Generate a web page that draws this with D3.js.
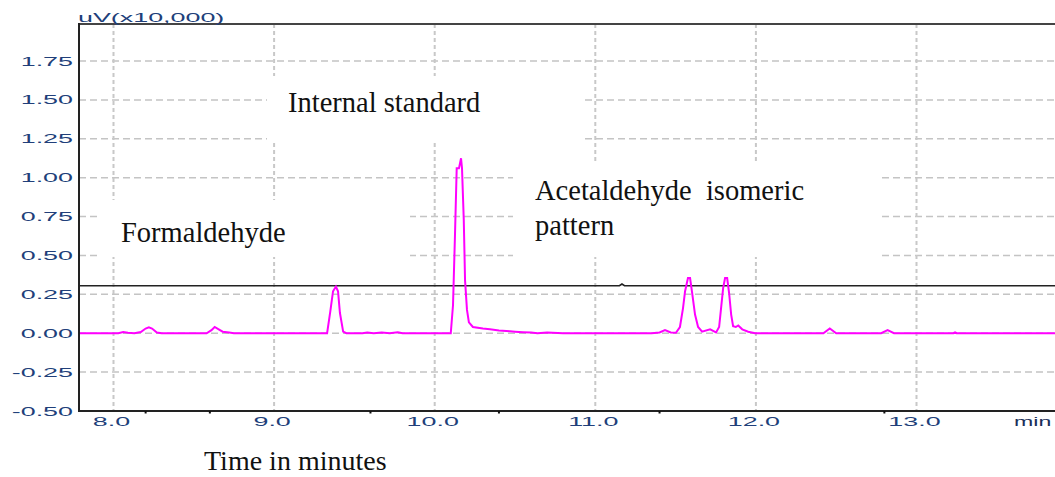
<!DOCTYPE html>
<html>
<head>
<meta charset="utf-8">
<script src="https://cdn.jsdelivr.net/npm/d3@7"></script>
<style>
  html, body { margin: 0; padding: 0; background: #fff; overflow: hidden; }
  svg { display: block; }
</style>
</head>
<body>
<svg id="chart" width="1055" height="477"></svg>
<script>
// ---------------- DATA ----------------
const xTicks = [8.0, 9.0, 10.0, 11.0, 12.0, 13.0];
const xTickLabels = ["8.0", "9.0", "10.0", "11.0", "12.0", "13.0"];
const xMinorTicks = [8.2, 8.6, 9.6, 10.4, 11.4, 12.8];
const yTicks = [-0.50, -0.25, 0.00, 0.25, 0.50, 0.75, 1.00, 1.25, 1.50, 1.75];
const yTickLabels = ["-0.50", "-0.25", "0.00", "0.25", "0.50", "0.75", "1.00", "1.25", "1.50", "1.75"];

// chromatogram trace: time (min), signal (uV x10,000)
const traceTime = [
  7.70, 8.03, 8.06, 8.09, 8.13, 8.17, 8.20, 8.22, 8.24, 8.27, 8.30,
  8.58, 8.61, 8.63, 8.655, 8.68, 8.72, 8.75,
  9.33, 9.35, 9.367, 9.385, 9.398, 9.41, 9.43, 9.45,
  9.55, 9.58, 9.62, 9.67, 9.72, 9.77, 9.80,
  10.10, 10.114, 10.126, 10.137, 10.151, 10.164, 10.170, 10.181, 10.189, 10.201, 10.213, 10.238,
  10.30, 10.344, 10.40, 10.469, 10.50, 10.55, 10.60, 10.64, 10.70, 10.80, 11.00, 11.20, 11.35,
  11.40, 11.434, 11.47, 11.502, 11.527, 11.546, 11.559, 11.577, 11.590, 11.603, 11.621, 11.640, 11.665,
  11.715, 11.752, 11.771, 11.783, 11.796, 11.808, 11.821, 11.833, 11.846, 11.858, 11.875, 11.890, 11.915, 11.952, 11.995,
  12.42, 12.46, 12.50, 12.78, 12.82, 12.86, 13.23, 13.24, 13.25, 14.00
];
const traceSignal = [
  0.000, 0.000, 0.008, 0.003, 0.000, 0.008, 0.030, 0.038, 0.030, 0.005, 0.000,
  0.000, 0.020, 0.040, 0.025, 0.010, 0.005, 0.000,
  0.000, 0.140, 0.270, 0.300, 0.270, 0.130, 0.010, 0.000,
  0.000, 0.005, 0.000, 0.005, 0.000, 0.006, 0.000,
  0.000, 0.180, 0.620, 1.060, 1.060, 1.125, 1.060, 0.730, 0.340, 0.150, 0.070, 0.040,
  0.030, 0.025, 0.018, 0.012, 0.010, 0.007, 0.005, 0.000, 0.004, 0.000, 0.000, 0.000, 0.000,
  0.005, 0.020, 0.005, 0.003, 0.040, 0.160, 0.270, 0.355, 0.355, 0.260, 0.120, 0.040, 0.010,
  0.025, 0.005, 0.040, 0.160, 0.290, 0.355, 0.355, 0.260, 0.120, 0.045, 0.040, 0.050, 0.025, 0.010, 0.000,
  0.000, 0.030, 0.000, 0.000, 0.020, 0.000, 0.000, 0.006, 0.000, 0.000
];

// horizontal reference line (black)
const refTime = [7.70, 11.150, 11.166, 11.182, 14.00];
const refSignal = [0.305, 0.305, 0.316, 0.305, 0.305];

// annotation labels
const labelTexts = ["Internal standard", "Formaldehyde", "Acetaldehyde  isomeric", "pattern"];
const axisTitleX = "Time in minutes";
const axisTitleY = "uV(x10,000)";
const axisUnitX = "min";

// ---------------- LAYOUT ----------------
const svg = d3.select("#chart");
const plotLeft = 79, plotTop = 24, plotBottom = 411, plotRight = 1062;

const x = d3.scaleLinear().domain([8, 13]).range([113.5, 916.5]);
const y = d3.scaleLinear().domain([-0.5, 1.75]).range([411, 61]);

const axisColor = "#213f7a";
const stretch = 2.15;

// clip
svg.append("defs").append("clipPath").attr("id", "plotClip")
  .append("rect").attr("x", plotLeft).attr("y", plotTop)
  .attr("width", plotRight - plotLeft).attr("height", plotBottom - plotTop);

// grid
const grid = svg.append("g").attr("clip-path", "url(#plotClip)");
grid.selectAll("line.h").data(yTicks).join("line")
  .attr("x1", plotLeft).attr("x2", plotRight)
  .attr("y1", d => y(d)).attr("y2", d => y(d))
  .attr("stroke", "#c4c4c4").attr("stroke-width", 1.5)
  .attr("stroke-dasharray", "7,4");
grid.selectAll("line.v").data(xTicks).join("line")
  .attr("x1", d => x(d)).attr("x2", d => x(d))
  .attr("y1", plotTop).attr("y2", plotBottom)
  .attr("stroke", "#c8c8c8").attr("stroke-width", 2)
  .attr("stroke-dasharray", "4,3");

// white boxes behind annotation texts
const boxes = svg.append("g");
const boxSpecs = [
  [267, 76, 583, 143],
  [513, 163, 880, 257],
  [100, 200, 410, 257]
];
boxes.selectAll("rect").data(boxSpecs).join("rect")
  .attr("x", d => d[0]).attr("y", d => d[1])
  .attr("width", d => d[2] - d[0]).attr("height", d => d[3] - d[1])
  .attr("fill", "#fff");

// lines
const plot = svg.append("g").attr("clip-path", "url(#plotClip)");
const refData = refTime.map((t, i) => [t, refSignal[i]]);
const traceData = traceTime.map((t, i) => [t, traceSignal[i]]);
const line = d3.line().x(d => x(d[0])).y(d => y(d[1]));

plot.append("path").datum(refData).attr("d", line)
  .attr("fill", "none").attr("stroke", "#222").attr("stroke-width", 1.6);
plot.append("path").datum(traceData).attr("d", line)
  .attr("fill", "none").attr("stroke", "#ff00ff").attr("stroke-width", 2)
  .attr("stroke-linejoin", "miter");

// frame / axes
svg.append("line").attr("x1", plotLeft).attr("x2", plotRight)
  .attr("y1", plotTop).attr("y2", plotTop)
  .attr("stroke", "#444").attr("stroke-width", 2);
svg.append("line").attr("x1", plotLeft).attr("x2", plotLeft)
  .attr("y1", plotTop - 1).attr("y2", plotBottom + 1)
  .attr("stroke", "#222").attr("stroke-width", 2);
svg.append("line").attr("x1", plotLeft).attr("x2", plotRight)
  .attr("y1", plotBottom).attr("y2", plotBottom)
  .attr("stroke", "#222").attr("stroke-width", 2);

// minor ticks on x axis
svg.selectAll("rect.minor").data(xMinorTicks).join("rect")
  .attr("x", d => x(d) - 1).attr("y", plotBottom).attr("width", 2).attr("height", 2.5)
  .attr("fill", "#111");

// y tick labels
svg.append("g").selectAll("text").data(yTicks).join("text")
  .attr("transform", d => `translate(73,${y(d) + 4.5}) scale(${stretch},1)`)
  .attr("text-anchor", "end")
  .attr("font-family", "Liberation Sans, Arial, sans-serif")
  .attr("font-size", 12.5)
  .attr("fill", axisColor)
  .text((d, i) => yTickLabels[i]);

// x tick labels
svg.append("g").selectAll("text").data(xTicks).join("text")
  .attr("transform", d => `translate(${x(d) - 2},${425.5}) scale(${stretch},1)`)
  .attr("text-anchor", "middle")
  .attr("font-family", "Liberation Sans, Arial, sans-serif")
  .attr("font-size", 12.5)
  .attr("fill", axisColor)
  .text((d, i) => xTickLabels[i]);

// axis unit labels
svg.append("text")
  .attr("transform", `translate(78,22) scale(${stretch},1)`)
  .attr("font-family", "Liberation Sans, Arial, sans-serif")
  .attr("font-size", 12.5).attr("fill", axisColor)
  .text(axisTitleY);
svg.append("text")
  .attr("transform", `translate(1014,425.5) scale(1.85,1)`)
  .attr("font-family", "Liberation Sans, Arial, sans-serif")
  .attr("font-size", 12.5).attr("fill", "#1a2f5a")
  .text(axisUnitX);

// annotation texts (serif)
const serif = "Liberation Serif, Times New Roman, serif";
const annPos = [
  [288, 111.5],
  [121, 242],
  [535, 200],
  [535, 235]
];
svg.append("g").selectAll("text").data(labelTexts).join("text")
  .attr("x", (d, i) => annPos[i][0]).attr("y", (d, i) => annPos[i][1])
  .attr("font-family", serif).attr("font-size", 28.5)
  .attr("fill", "#111")
  .attr("xml:space", "preserve")
  .style("white-space", "pre")
  .text(d => d);

svg.append("text").attr("x", 204).attr("y", 470)
  .attr("font-family", serif).attr("font-size", 28).attr("fill", "#111")
  .text(axisTitleX);
</script>
</body>
</html>
